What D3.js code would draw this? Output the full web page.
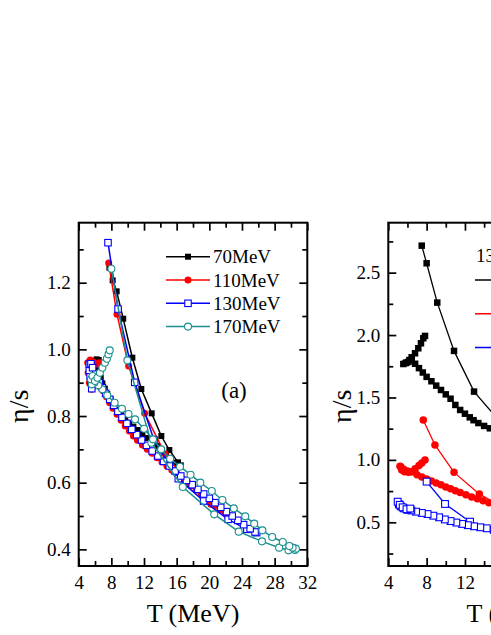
<!DOCTYPE html>
<html lang="en">
<head>
<meta charset="utf-8">
<title>eta/s versus T</title>
<script src="https://cdnjs.cloudflare.com/ajax/libs/d3/7.8.5/d3.min.js"></script>
<style>
  body { margin: 0; background: #fff; }
  svg { display: block; }
  svg text { font-family: "Liberation Serif", "Times New Roman", serif; fill: #000; }
</style>
</head>
<body>
<svg id="chart"></svg>
<script>
// ---- panel (a): eta/s vs T, four beam energies ----
var legendA = ["70MeV", "110MeV", "130MeV", "170MeV"];

// each series in path order: heating branch (sparse), cooling branch (dense), final hook
var black70 = [[7.76,1.245],[8.16,1.207],[8.65,1.174],[9.45,1.092],[10.57,0.975],[11.67,0.881],[12.94,0.808],[14.12,0.74],[15.1,0.698],[16.16,0.661],[16.5,0.652],
  [16.2,0.648],[15.7,0.66],[15.2,0.672],[14.7,0.684],[14.2,0.697],[13.6,0.71],[13.0,0.722],[12.4,0.734],[11.8,0.746],[11.2,0.758],[10.7,0.768],[10.2,0.778],[9.7,0.79],[9.2,0.803],[8.7,0.818],[8.3,0.833],[7.9,0.85],[7.5,0.866],[7.2,0.882],[6.9,0.898],[6.7,0.914],[6.5,0.93],[6.3,0.945],[6.1,0.958],[5.95,0.966],[6.2,0.97],[6.45,0.968],[6.6,0.955]];
var red110 = [[7.67,1.259],[8.69,1.105],[10.12,0.95],[12.08,0.808],[14.6,0.686],[17.4,0.598],[20.2,0.535],[22.2,0.502],
  [22.0,0.508],[21.4,0.518],[20.8,0.53],[20.2,0.542],[19.6,0.554],[19.0,0.566],[18.4,0.578],[17.8,0.59],[17.2,0.602],[16.6,0.614],[16.0,0.626],[15.4,0.638],[14.8,0.65],[14.2,0.662],[13.6,0.675],[13.0,0.688],[12.4,0.7],[11.8,0.713],[11.2,0.727],[10.7,0.74],[10.2,0.755],[9.7,0.77],[9.2,0.787],[8.7,0.805],[8.2,0.823],[7.8,0.84],[7.4,0.858],[7.0,0.876],[6.6,0.888],[6.2,0.898],[5.8,0.89],[5.6,0.88],[5.3,0.9],[5.15,0.93],[5.1,0.96],[5.4,0.968],[5.8,0.962],[6.2,0.955],[6.5,0.96]];
var blue130 = [[7.59,1.32],[8.82,1.121],[10.86,0.901],[13.22,0.728],[16.2,0.612],[19.3,0.545],[22.3,0.49],[24.6,0.46],[25.8,0.45],
  [25.6,0.452],[25.0,0.462],[24.2,0.474],[23.5,0.487],[22.8,0.5],[22.1,0.513],[21.4,0.526],[20.7,0.54],[20.0,0.553],[19.3,0.566],[18.6,0.58],[17.9,0.594],[17.2,0.607],[16.5,0.62],[15.8,0.635],[15.1,0.65],[14.4,0.664],[13.7,0.68],[13.0,0.695],[12.3,0.712],[11.7,0.728],[11.1,0.744],[10.5,0.76],[9.9,0.778],[9.3,0.796],[8.8,0.814],[8.3,0.832],[7.8,0.85],[7.3,0.868],[6.9,0.885],[6.5,0.9],[6.1,0.905],[5.8,0.895],[5.6,0.882],[5.5,0.9],[5.4,0.918],[5.3,0.937],[5.3,0.955],[5.5,0.957],[5.7,0.945]];
var cyan170 = [[8.0,1.242],[9.96,0.967],[12.9,0.72],[16.75,0.587],[20.6,0.505],[23.6,0.453],[26.45,0.424],[28.55,0.405],[29.7,0.397],[30.5,0.398],
  [30.6,0.402],[30.2,0.405],[29.8,0.41],[29.0,0.422],[27.7,0.437],[26.5,0.457],[25.5,0.477],[24.4,0.499],[23.0,0.523],[21.6,0.548],[20.3,0.575],[18.9,0.6],[17.7,0.624],[16.4,0.648],[15.2,0.672],[14.1,0.7],[13.1,0.73],[12.0,0.762],[10.9,0.79],[10.1,0.806],[9.3,0.822],[8.4,0.84],[7.5,0.862],[6.9,0.88],[6.4,0.892],[5.9,0.9],[5.6,0.895],[5.5,0.91],[5.7,0.92],[6.0,0.905],[6.3,0.915],[6.6,0.93],[6.9,0.945],[7.2,0.96],[7.45,0.972],[7.65,0.985],[7.8,0.997]];

var xTicksA = [4, 8, 12, 16, 20, 24, 28, 32];
var xMinorA = [6, 10, 14, 18, 22, 26, 30];
var yTicksA = [0.4, 0.6, 0.8, 1.0, 1.2];
var yMinorA = [0.5, 0.7, 0.9, 1.1, 1.3];

// ---- right panel (cut off at the page edge) ----
var legendBTitle = "130MeV";
var blackB = [[7.49,2.716],[8.0,2.575],[9.11,2.26],[10.86,1.873],[12.95,1.547],[15.4,1.33],[18.2,1.15],
  [16.5,1.2],[15.6,1.225],[14.6,1.253],[14.0,1.272],[13.4,1.295],[12.9,1.318],[12.5,1.341],[12.0,1.37],[11.5,1.4],[11.0,1.44],[10.5,1.49],[10.0,1.525],[9.5,1.56],[9.0,1.595],[8.5,1.63],[8.0,1.665],[7.6,1.7],[7.2,1.735],[6.8,1.77],[6.45,1.8],[6.1,1.785],[5.8,1.775],[5.57,1.768],[5.9,1.78],[6.2,1.8],[6.44,1.822],[6.79,1.854],[7.13,1.894],[7.41,1.934],[7.65,1.974],[7.83,1.993]];
var redB = [[7.65,1.32],[8.87,1.12],[10.86,0.9],[13.5,0.727],[16.5,0.6],
  [16.0,0.6],[15.2,0.628],[14.5,0.657],[13.9,0.672],[13.3,0.688],[12.7,0.703],[12.1,0.72],[11.5,0.738],[11.0,0.753],[10.5,0.768],[10.0,0.783],[9.5,0.8],[9.0,0.815],[8.5,0.83],[8.0,0.846],[7.5,0.862],[7.0,0.88],[6.44,0.905],[6.0,0.91],[5.6,0.925],[5.3,0.945],[5.22,0.95],[5.4,0.92],[5.7,0.905],[6.1,0.9],[6.44,0.905],[6.8,0.93],[7.2,0.955],[7.5,0.975],[7.83,1.0]];
var blueB = [[8.0,0.826],[9.92,0.647],[12.53,0.505],[15.5,0.42],
  [15.0,0.44],[14.27,0.452],[13.6,0.46],[12.95,0.468],[12.3,0.477],[11.7,0.487],[11.1,0.498],[10.5,0.51],[9.9,0.523],[9.3,0.54],[8.7,0.553],[8.1,0.566],[7.5,0.575],[6.9,0.585],[6.4,0.595],[6.0,0.6],[5.6,0.612],[5.3,0.628],[5.1,0.645],[4.98,0.665],[5.2,0.64],[5.5,0.62],[5.9,0.605],[6.3,0.61]];

// only 4, 8, 12 fall inside the visible page; the rest of the axis is off to the right
var xTicksB = [4, 8, 12];
var xTicksBHidden = [16, 20, 24, 28];
var xMinorB = [6, 10, 14, 18, 22, 26, 30];
var yTicksB = [0.5, 1.0, 1.5, 2.0, 2.5];
var yMinorB = [0.25, 0.75, 1.25, 1.75, 2.25, 2.75];

var W = 491, H = 635;
var serif = "'Liberation Serif', 'Times New Roman', serif";
var svg = d3.select("#chart").attr("width", W).attr("height", H);

function addAxis(g, gen, tr, size) {
  var a = g.append("g").attr("transform", tr).call(gen);
  a.select(".domain").remove();
  a.attr("font-family", serif).attr("font-size", size || 19);
  a.selectAll("line").attr("stroke", "#000").attr("stroke-width", 1.7);
  return a;
}

function makePanel(o) {
  var x = d3.scaleLinear().domain(o.xDomain).range([o.left, o.right]);
  var y = d3.scaleLinear().domain(o.yDomain).range([o.bottom, o.top]);
  var g = svg.append("g");
  var fmtY = d3.format(".1f");
  var xMajorAll = o.xTicks.concat(o.xHidden || []);
  // bottom + left with labels, top + right mirrored, ticks pointing inward
  addAxis(g, d3.axisBottom(x).tickValues(o.xTicks).tickSize(-8).tickPadding(10).tickFormat(d3.format("d")), "translate(0," + o.bottom + ")");
  if (o.xHidden) addAxis(g, d3.axisBottom(x).tickValues(o.xHidden).tickSize(-8).tickFormat(""), "translate(0," + o.bottom + ")");
  addAxis(g, d3.axisBottom(x).tickValues(o.xMinor).tickSize(-5).tickFormat(""), "translate(0," + o.bottom + ")");
  addAxis(g, d3.axisTop(x).tickValues(xMajorAll).tickSize(-8).tickFormat(""), "translate(0," + o.top + ")");
  addAxis(g, d3.axisTop(x).tickValues(o.xMinor).tickSize(-5).tickFormat(""), "translate(0," + o.top + ")");
  addAxis(g, d3.axisLeft(y).tickValues(o.yTicks).tickSize(-8).tickPadding(8).tickFormat(fmtY), "translate(" + o.left + ",0)");
  addAxis(g, d3.axisLeft(y).tickValues(o.yMinor).tickSize(-5).tickFormat(""), "translate(" + o.left + ",0)");
  addAxis(g, d3.axisRight(y).tickValues(o.yTicks).tickSize(-8).tickFormat(""), "translate(" + o.right + ",0)");
  addAxis(g, d3.axisRight(y).tickValues(o.yMinor).tickSize(-5).tickFormat(""), "translate(" + o.right + ",0)");
  g.append("rect")
    .attr("x", o.left).attr("y", o.top)
    .attr("width", o.right - o.left).attr("height", o.bottom - o.top)
    .attr("fill", "none").attr("stroke", "#000").attr("stroke-width", 2);
  // axis titles
  g.append("text")
    .attr("x", (o.left + o.right) / 2).attr("y", o.bottom + 56)
    .attr("text-anchor", "middle").style("font-size", "26px")
    .text("T (MeV)");
  g.append("text")
    .attr("transform", "translate(" + o.yLabelX + "," + ((o.top + o.bottom) / 2 + 12) + ") rotate(-90)")
    .attr("text-anchor", "middle").attr("dy", "0.35em").style("font-size", "28px")
    .text("\u03B7/s");
  return { g: g, x: x, y: y };
}

function drawSeries(p, data, st) {
  var line = d3.line().x(function(d) { return p.x(d[0]); }).y(function(d) { return p.y(d[1]); });
  var s = p.g.append("g");
  s.append("path").attr("d", line(data))
    .attr("fill", "none").attr("stroke", st.color).attr("stroke-width", st.lw);
  drawMarkers(s, data.map(function(d) { return [p.x(d[0]), p.y(d[1])]; }), st);
}

function drawMarkers(s, pts, st) {
  if (st.shape === "square") {
    s.selectAll("rect.m").data(pts).enter().append("rect").attr("class", "m")
      .attr("x", function(d) { return d[0] - st.size / 2; })
      .attr("y", function(d) { return d[1] - st.size / 2; })
      .attr("width", st.size).attr("height", st.size)
      .attr("fill", st.open ? "#fff" : st.color)
      .attr("stroke", st.open ? st.color : "none").attr("stroke-width", 1.1);
  } else {
    s.selectAll("circle.m").data(pts).enter().append("circle").attr("class", "m")
      .attr("cx", function(d) { return d[0]; }).attr("cy", function(d) { return d[1]; })
      .attr("r", st.size / 2)
      .attr("fill", st.open ? "#fff" : st.color)
      .attr("stroke", st.open ? st.color : "none").attr("stroke-width", 1.1);
  }
}

var teal = "#1b8f8f";
var stylesA = [
  { color: "#000", shape: "square", size: 6, open: false, lw: 1.5 },
  { color: "#ff0000", shape: "circle", size: 7, open: false, lw: 1.5 },
  { color: "#0000ff", shape: "square", size: 6.5, open: true, lw: 1.5 },
  { color: teal, shape: "circle", size: 7, open: true, lw: 1.5 }
];

// panel (a)
var pa = makePanel({ xDomain: [4, 32], yDomain: [0.35, 1.38], left: 78.7, right: 307.3, top: 222.7, bottom: 566,
  xTicks: xTicksA, xMinor: xMinorA, yTicks: yTicksA, yMinor: yMinorA, yLabelX: 18 });
[black70, red110, blue130, cyan170].forEach(function(d, i) { drawSeries(pa, d, stylesA[i]); });

// legend of panel (a)
legendA.forEach(function(t, i) {
  var ly = 256.7 + i * 23.3;
  var lg = pa.g.append("g");
  lg.append("line").attr("x1", 166).attr("x2", 210).attr("y1", ly).attr("y2", ly)
    .attr("stroke", stylesA[i].color).attr("stroke-width", 1.5);
  drawMarkers(lg, [[188, ly]], stylesA[i]);
  lg.append("text").attr("x", 213).attr("y", ly + 6.5).style("font-size", "19px").text(t);
});
pa.g.append("text").attr("x", 234).attr("y", 398).attr("text-anchor", "middle")
  .style("font-size", "23px").text("(a)");

// right panel
var stylesB = [
  { color: "#000", shape: "square", size: 6.5, open: false, lw: 1.3 },
  { color: "#ff0000", shape: "circle", size: 7.5, open: false, lw: 1.3 },
  { color: "#0000ff", shape: "square", size: 6.8, open: true, lw: 1.3 }
];
var pb = makePanel({ xDomain: [4, 30], yDomain: [0.15, 2.9], left: 388.3, right: 637.4, top: 222.7, bottom: 566,
  xTicks: xTicksB, xHidden: xTicksBHidden, xMinor: xMinorB, yTicks: yTicksB, yMinor: yMinorB, yLabelX: 341 });
[blackB, redB, blueB].forEach(function(d, i) { drawSeries(pb, d, stylesB[i]); });
pb.g.append("text").attr("x", 476).attr("y", 262).style("font-size", "19px").text(legendBTitle);
stylesB.forEach(function(st, i) {
  var ly = 280 + i * 33.7;
  pb.g.append("line").attr("x1", 475).attr("x2", 520).attr("y1", ly).attr("y2", ly)
    .attr("stroke", st.color).attr("stroke-width", 1.5);
});
</script>
</body>
</html>
